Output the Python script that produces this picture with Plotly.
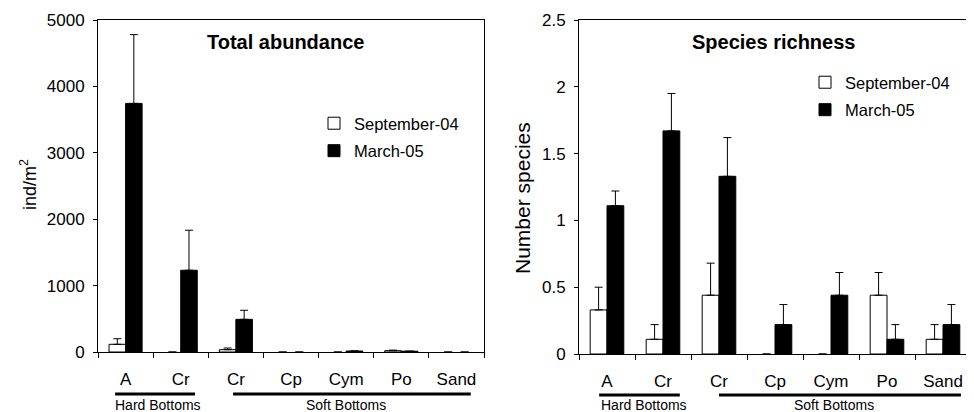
import plotly.graph_objects as go

categories = ["A", "Cr", "Cr", "Cp", "Cym", "Po", "Sand"]
series_names = ["September-04", "March-05"]

# Total abundance (ind/m2)
abund_sep = [116, 0, 35, 0, 0, 20, 0]
abund_sep_err = [84, 0, 25, 0, 0, 8, 0]
abund_mar = [3744, 1231, 492, 0, 15, 12, 0]
abund_mar_err = [1036, 603, 136, 0, 0, 0, 0]

# Species richness (number species)
rich_sep = [0.33, 0.11, 0.44, 0, 0, 0.44, 0.11]
rich_sep_err = [0.17, 0.11, 0.24, 0, 0, 0.17, 0.11]
rich_mar = [1.11, 1.67, 1.33, 0.22, 0.44, 0.11, 0.22]
rich_mar_err = [0.11, 0.28, 0.29, 0.15, 0.17, 0.11, 0.15]

FONT = "Liberation Sans, Arial, sans-serif"
W, H, OFF = 974, 412, 8
xpos = list(range(len(categories)))


def px(x):  # screen pixel -> paper fraction (page has an 8px body offset)
    return (x - OFF) / W


def py(y):
    return (H + OFF - y) / H


fig = go.Figure()


def add_bars(vals, errs, name, fill, xa, ya, legend, group):
    fig.add_trace(go.Bar(
        x=xpos, y=vals, name=name, xaxis=xa, yaxis=ya, legend=legend,
        legendgroup=group,
        marker=dict(color=fill,
                    line=dict(color="black",
                              width=[1 if v > 0 else 0 for v in vals])),
        error_y=dict(type="data", symmetric=False,
                     array=[e if e > 0 else None for e in errs],
                     arrayminus=[0 if e > 0 else None for e in errs],
                     color="black", thickness=1, width=4),
    ))


add_bars(abund_sep, abund_sep_err, series_names[0], "white", "x", "y", "legend", "a1")
add_bars(abund_mar, abund_mar_err, series_names[1], "black", "x", "y", "legend", "a2")
add_bars(rich_sep, rich_sep_err, series_names[0], "white", "x2", "y2", "legend2", "b1")
add_bars(rich_mar, rich_mar_err, series_names[1], "black", "x2", "y2", "legend2", "b2")

bounds = [i - 0.5 for i in range(len(categories) + 1)]


def xaxis(domain, anchor):
    return dict(
        domain=domain, anchor=anchor, range=[-0.5, len(categories) - 0.5],
        tickmode="array", tickvals=xpos, ticktext=categories,
        ticks="", showgrid=False, zeroline=False, automargin=False,
        showline=True, mirror=True, linecolor="black", linewidth=1,
        tickfont=dict(family=FONT, size=17, color="black"),
        ticklabelstandoff=12,
        minor=dict(tickmode="array", tickvals=bounds, ticks="outside",
                   ticklen=5, tickcolor="black", showgrid=False),
        fixedrange=True,
    )


def yaxis(domain, rng, dtick, anchor):
    return dict(
        domain=domain, range=rng, dtick=dtick, anchor=anchor,
        ticks="outside", ticklen=4, tickcolor="black", automargin=False,
        showgrid=False, zeroline=False,
        showline=True, mirror=True, linecolor="black", linewidth=1,
        tickfont=dict(family=FONT, size=17, color="black"),
        ticklabelstandoff=5,
        fixedrange=True,
    )


leg_common = dict(xanchor="left", yanchor="top", bgcolor="rgba(0,0,0,0)",
                  font=dict(family=FONT, size=16.5, color="black"),
                  itemwidth=30, traceorder="grouped", tracegroupgap=3)

fig.update_layout(
    template="none",
    width=W, height=H,
    margin=dict(l=0, r=0, t=0, b=0, autoexpand=False),
    paper_bgcolor="white", plot_bgcolor="white",
    font=dict(family=FONT, color="black"),
    barmode="group",
    bargap=0.4, bargroupgap=0,
    xaxis=xaxis([px(98), px(484)], "y"),
    yaxis=yaxis([py(352), py(20)], [0, 5000], 1000, "x"),
    xaxis2=xaxis([px(579), px(971)], "y2"),
    yaxis2=yaxis([py(354), py(20)], [0, 2.5], 0.5, "x2"),
    legend=dict(x=px(314), y=py(106), **leg_common),
    legend2=dict(x=px(805), y=py(65), **leg_common),
    showlegend=True,
)

annotations = [
    dict(text="<b>Total abundance</b>", x=px(285), y=py(42), font=dict(size=20)),
    dict(text="<b>Species richness</b>", x=px(773), y=py(42), font=dict(size=20)),
    dict(text="ind/m<sup>2</sup>", x=px(28), y=py(185), textangle=-90,
         font=dict(size=18)),
    dict(text="Number species", x=px(522), y=py(198), textangle=-90,
         font=dict(size=21)),
    dict(text="Hard Bottoms", x=px(158), y=py(404.5), font=dict(size=14)),
    dict(text="Soft Bottoms", x=px(346), y=py(404.5), font=dict(size=14)),
    dict(text="Hard Bottoms", x=px(644), y=py(404.5), font=dict(size=14)),
    dict(text="Soft Bottoms", x=px(834), y=py(404.5), font=dict(size=14)),
]
for a in annotations:
    a.update(xref="paper", yref="paper", showarrow=False,
             xanchor="center", yanchor="middle")
    a["font"].update(family=FONT, color="black")
fig.update_layout(annotations=annotations)

line_style = dict(color="black", width=3)
fig.add_shape(type="line", xref="x", yref="paper", x0=-0.19, x1=1.26,
              y0=py(394), y1=py(394), line=line_style)
fig.add_shape(type="line", xref="x", yref="paper", x0=1.95, x1=6.26,
              y0=py(394), y1=py(394), line=line_style)
fig.add_shape(type="line", xref="x2", yref="paper", x0=-0.14, x1=1.30,
              y0=py(395), y1=py(395), line=line_style)
fig.add_shape(type="line", xref="x2", yref="paper", x0=2.0, x1=6.32,
              y0=py(395), y1=py(395), line=line_style)

fig.write_html("out.html")
